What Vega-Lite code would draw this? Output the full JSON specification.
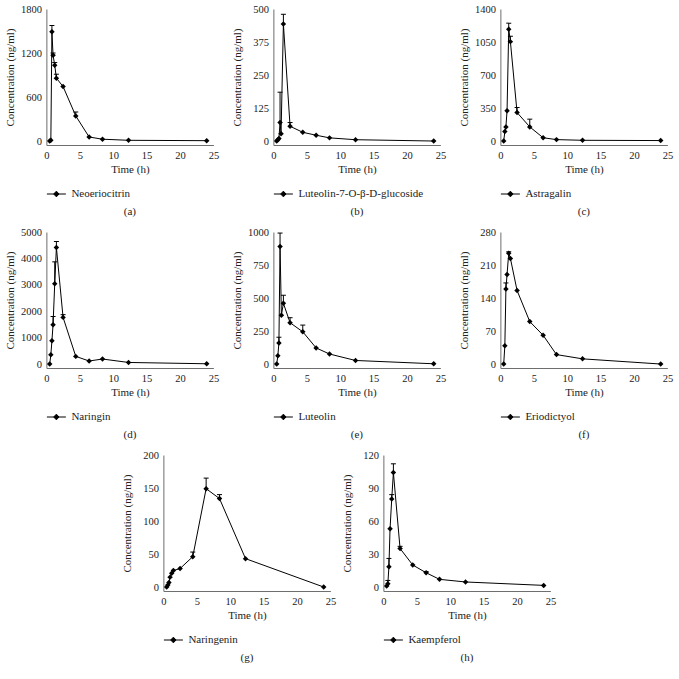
{
  "$schema": "https://vega.github.io/schema/vega-lite/v6.json",
  "padding": {"left": 4, "right": 5, "top": 4, "bottom": 3},
  "background": "white",
  "datasets": {
    "d": [
      {"c":"Neoeriocitrin","t":0.5,"v":0},
      {"c":"Neoeriocitrin","t":0.67,"v":10},
      {"c":"Neoeriocitrin","t":0.83,"v":1489,"hi":1575},
      {"c":"Neoeriocitrin","t":1,"v":1171,"hi":1200},
      {"c":"Neoeriocitrin","t":1.25,"v":1034,"hi":1070},
      {"c":"Neoeriocitrin","t":1.5,"v":857,"hi":911},
      {"c":"Neoeriocitrin","t":2.5,"v":743},
      {"c":"Neoeriocitrin","t":4.4,"v":342,"hi":396},
      {"c":"Neoeriocitrin","t":6.4,"v":55},
      {"c":"Neoeriocitrin","t":8.4,"v":25},
      {"c":"Neoeriocitrin","t":12.3,"v":10},
      {"c":"Neoeriocitrin","t":24,"v":5},

      {"c":"Luteolin-7-O-β-D-glucoside","t":0.5,"v":0},
      {"c":"Luteolin-7-O-β-D-glucoside","t":0.67,"v":5},
      {"c":"Luteolin-7-O-β-D-glucoside","t":0.83,"v":10},
      {"c":"Luteolin-7-O-β-D-glucoside","t":1,"v":70,"hi":185},
      {"c":"Luteolin-7-O-β-D-glucoside","t":1.15,"v":28},
      {"c":"Luteolin-7-O-β-D-glucoside","t":1.5,"v":443,"hi":480},
      {"c":"Luteolin-7-O-β-D-glucoside","t":2.5,"v":56,"hi":70},
      {"c":"Luteolin-7-O-β-D-glucoside","t":4.4,"v":33},
      {"c":"Luteolin-7-O-β-D-glucoside","t":6.4,"v":22},
      {"c":"Luteolin-7-O-β-D-glucoside","t":8.4,"v":12},
      {"c":"Luteolin-7-O-β-D-glucoside","t":12.3,"v":5},
      {"c":"Luteolin-7-O-β-D-glucoside","t":24,"v":0},

      {"c":"Astragalin","t":0.5,"v":0},
      {"c":"Astragalin","t":0.67,"v":100},
      {"c":"Astragalin","t":0.83,"v":150},
      {"c":"Astragalin","t":1,"v":320},
      {"c":"Astragalin","t":1.25,"v":1186,"hi":1250},
      {"c":"Astragalin","t":1.5,"v":1054,"hi":1110},
      {"c":"Astragalin","t":2.5,"v":302,"hi":355},
      {"c":"Astragalin","t":4.4,"v":150,"hi":232},
      {"c":"Astragalin","t":6.4,"v":35},
      {"c":"Astragalin","t":8.4,"v":15},
      {"c":"Astragalin","t":12.3,"v":8},
      {"c":"Astragalin","t":24,"v":5},

      {"c":"Naringin","t":0.5,"v":0},
      {"c":"Naringin","t":0.67,"v":355},
      {"c":"Naringin","t":0.83,"v":878},
      {"c":"Naringin","t":1,"v":1489,"hi":1800},
      {"c":"Naringin","t":1.25,"v":3038,"hi":3870},
      {"c":"Naringin","t":1.5,"v":4412,"hi":4640},
      {"c":"Naringin","t":2.5,"v":1767,"hi":1870},
      {"c":"Naringin","t":4.4,"v":290},
      {"c":"Naringin","t":6.4,"v":115},
      {"c":"Naringin","t":8.4,"v":190},
      {"c":"Naringin","t":12.3,"v":60},
      {"c":"Naringin","t":24,"v":10},

      {"c":"Luteolin","t":0.5,"v":0},
      {"c":"Luteolin","t":0.67,"v":63},
      {"c":"Luteolin","t":0.83,"v":160,"hi":203},
      {"c":"Luteolin","t":1,"v":890,"hi":992},
      {"c":"Luteolin","t":1.2,"v":369},
      {"c":"Luteolin","t":1.5,"v":460,"hi":521},
      {"c":"Luteolin","t":2.5,"v":313,"hi":351},
      {"c":"Luteolin","t":4.4,"v":244,"hi":295},
      {"c":"Luteolin","t":6.4,"v":122},
      {"c":"Luteolin","t":8.4,"v":76},
      {"c":"Luteolin","t":12.3,"v":27},
      {"c":"Luteolin","t":24,"v":2},

      {"c":"Eriodictyol","t":0.5,"v":0},
      {"c":"Eriodictyol","t":0.67,"v":39},
      {"c":"Eriodictyol","t":0.83,"v":159,"hi":172},
      {"c":"Eriodictyol","t":1,"v":190},
      {"c":"Eriodictyol","t":1.25,"v":235,"hi":238},
      {"c":"Eriodictyol","t":1.5,"v":224},
      {"c":"Eriodictyol","t":2.5,"v":156},
      {"c":"Eriodictyol","t":4.4,"v":90},
      {"c":"Eriodictyol","t":6.4,"v":61},
      {"c":"Eriodictyol","t":8.4,"v":20},
      {"c":"Eriodictyol","t":12.3,"v":11},
      {"c":"Eriodictyol","t":24,"v":0},

      {"c":"Naringenin","t":0.5,"v":0},
      {"c":"Naringenin","t":0.67,"v":3},
      {"c":"Naringenin","t":0.83,"v":7},
      {"c":"Naringenin","t":1,"v":15},
      {"c":"Naringenin","t":1.25,"v":21},
      {"c":"Naringenin","t":1.5,"v":25},
      {"c":"Naringenin","t":2.5,"v":28},
      {"c":"Naringenin","t":4.4,"v":46,"hi":53},
      {"c":"Naringenin","t":6.4,"v":149,"hi":165},
      {"c":"Naringenin","t":8.4,"v":134,"hi":140},
      {"c":"Naringenin","t":12.3,"v":43},
      {"c":"Naringenin","t":24,"v":0},

      {"c":"Kaempferol","t":0.5,"v":1},
      {"c":"Kaempferol","t":0.67,"v":3,"hi":6},
      {"c":"Kaempferol","t":0.83,"v":18.5,"hi":26},
      {"c":"Kaempferol","t":1,"v":53},
      {"c":"Kaempferol","t":1.25,"v":80,"hi":84},
      {"c":"Kaempferol","t":1.5,"v":104,"hi":112},
      {"c":"Kaempferol","t":2.5,"v":35,"hi":37},
      {"c":"Kaempferol","t":4.4,"v":20},
      {"c":"Kaempferol","t":6.4,"v":13,"hi":14},
      {"c":"Kaempferol","t":8.4,"v":7},
      {"c":"Kaempferol","t":12.3,"v":4.6},
      {"c":"Kaempferol","t":24,"v":1.5}
    ]
  },
  "spacing": 10,
  "center": true,
  "resolve": {"scale": {"color": "independent"}, "legend": {"color": "independent"}},
  "vconcat": [
    {
      "spacing": 11,
      "resolve": {"scale": {"color": "independent"}, "legend": {"color": "independent"}},
      "hconcat": [
        {
          "width": 167, "height": 136,
          "data": {"name": "d"},
          "transform": [{"filter": "datum.c == 'Neoeriocitrin'"}],
          "title": {"text": "(a)", "orient": "bottom", "anchor": "middle"},
          "encoding": {
            "x": {"field": "t", "type": "quantitative", "scale": {"domain": [0, 25], "nice": false}, "axis": {"values": [0, 5, 10, 15, 20, 25], "title": "Time (h)", "titleFontWeight": "normal"}},
            "y": {"field": "v", "type": "quantitative", "scale": {"domain": [-54, 1800], "nice": false}, "axis": {"values": [0, 600, 1200, 1800], "labelOverlap": false, "title": "Concentration (ng/ml)"}}
          },
          "layer": [
            {"transform": [{"filter": "isValid(datum.hi)"}], "mark": {"type": "rule", "color": "black", "strokeWidth": 1}, "encoding": {"y2": {"field": "hi"}}},
            {"transform": [{"filter": "isValid(datum.hi)"}], "mark": {"type": "tick", "orient": "horizontal", "size": 5, "thickness": 1, "color": "black", "opacity": 1}, "encoding": {"y": {"field": "hi", "type": "quantitative", "axis": {"values": [0, 600, 1200, 1800], "labelOverlap": false, "title": "Concentration (ng/ml)"}}}},
            {"mark": {"type": "line", "color": "black", "strokeWidth": 1}},
            {"mark": {"type": "point", "shape": "diamond", "filled": true, "size": 30, "opacity": 1}, "encoding": {"color": {"field": "c", "type": "nominal", "scale": {"range": ["black"]}, "legend": {"title": null, "orient": "bottom", "symbolType": "M-1,0L1,0M-0.28,0L0,-0.3L0.28,0L0,0.3Z", "symbolSize": 361, "symbolFillColor": "black", "symbolStrokeColor": "black", "symbolStrokeWidth": 1}}}}
          ]
        },
        {
          "width": 167, "height": 136,
          "data": {"name": "d"},
          "transform": [{"filter": "datum.c == 'Luteolin-7-O-β-D-glucoside'"}],
          "title": {"text": "(b)", "orient": "bottom", "anchor": "middle"},
          "encoding": {
            "x": {"field": "t", "type": "quantitative", "scale": {"domain": [0, 25], "nice": false}, "axis": {"values": [0, 5, 10, 15, 20, 25], "title": "Time (h)", "titleFontWeight": "normal"}},
            "y": {"field": "v", "type": "quantitative", "scale": {"domain": [-15, 500], "nice": false}, "axis": {"values": [0, 125, 250, 375, 500], "labelOverlap": false, "title": "Concentration (ng/ml)"}}
          },
          "layer": [
            {"transform": [{"filter": "isValid(datum.hi)"}], "mark": {"type": "rule", "color": "black", "strokeWidth": 1}, "encoding": {"y2": {"field": "hi"}}},
            {"transform": [{"filter": "isValid(datum.hi)"}], "mark": {"type": "tick", "orient": "horizontal", "size": 5, "thickness": 1, "color": "black", "opacity": 1}, "encoding": {"y": {"field": "hi", "type": "quantitative", "axis": {"values": [0, 125, 250, 375, 500], "labelOverlap": false, "title": "Concentration (ng/ml)"}}}},
            {"mark": {"type": "line", "color": "black", "strokeWidth": 1}},
            {"mark": {"type": "point", "shape": "diamond", "filled": true, "size": 30, "opacity": 1}, "encoding": {"color": {"field": "c", "type": "nominal", "scale": {"range": ["black"]}, "legend": {"title": null, "orient": "bottom", "symbolType": "M-1,0L1,0M-0.28,0L0,-0.3L0.28,0L0,0.3Z", "symbolSize": 361, "symbolFillColor": "black", "symbolStrokeColor": "black", "symbolStrokeWidth": 1}}}}
          ]
        },
        {
          "width": 167, "height": 136,
          "data": {"name": "d"},
          "transform": [{"filter": "datum.c == 'Astragalin'"}],
          "title": {"text": "(c)", "orient": "bottom", "anchor": "middle"},
          "encoding": {
            "x": {"field": "t", "type": "quantitative", "scale": {"domain": [0, 25], "nice": false}, "axis": {"values": [0, 5, 10, 15, 20, 25], "title": "Time (h)", "titleFontWeight": "normal"}},
            "y": {"field": "v", "type": "quantitative", "scale": {"domain": [-42, 1400], "nice": false}, "axis": {"values": [0, 350, 700, 1050, 1400], "labelOverlap": false, "title": "Concentration (ng/ml)"}}
          },
          "layer": [
            {"transform": [{"filter": "isValid(datum.hi)"}], "mark": {"type": "rule", "color": "black", "strokeWidth": 1}, "encoding": {"y2": {"field": "hi"}}},
            {"transform": [{"filter": "isValid(datum.hi)"}], "mark": {"type": "tick", "orient": "horizontal", "size": 5, "thickness": 1, "color": "black", "opacity": 1}, "encoding": {"y": {"field": "hi", "type": "quantitative", "axis": {"values": [0, 350, 700, 1050, 1400], "labelOverlap": false, "title": "Concentration (ng/ml)"}}}},
            {"mark": {"type": "line", "color": "black", "strokeWidth": 1}},
            {"mark": {"type": "point", "shape": "diamond", "filled": true, "size": 30, "opacity": 1}, "encoding": {"color": {"field": "c", "type": "nominal", "scale": {"range": ["black"]}, "legend": {"title": null, "orient": "bottom", "symbolType": "M-1,0L1,0M-0.28,0L0,-0.3L0.28,0L0,0.3Z", "symbolSize": 361, "symbolFillColor": "black", "symbolStrokeColor": "black", "symbolStrokeWidth": 1}}}}
          ]
        }
      ]
    },
    {
      "spacing": 11,
      "resolve": {"scale": {"color": "independent"}, "legend": {"color": "independent"}},
      "hconcat": [
        {
          "width": 167, "height": 136,
          "data": {"name": "d"},
          "transform": [{"filter": "datum.c == 'Naringin'"}],
          "title": {"text": "(d)", "orient": "bottom", "anchor": "middle"},
          "encoding": {
            "x": {"field": "t", "type": "quantitative", "scale": {"domain": [0, 25], "nice": false}, "axis": {"values": [0, 5, 10, 15, 20, 25], "title": "Time (h)", "titleFontWeight": "normal"}},
            "y": {"field": "v", "type": "quantitative", "scale": {"domain": [-150, 5000], "nice": false}, "axis": {"values": [0, 1000, 2000, 3000, 4000, 5000], "labelOverlap": false, "title": "Concentration (ng/ml)"}}
          },
          "layer": [
            {"transform": [{"filter": "isValid(datum.hi)"}], "mark": {"type": "rule", "color": "black", "strokeWidth": 1}, "encoding": {"y2": {"field": "hi"}}},
            {"transform": [{"filter": "isValid(datum.hi)"}], "mark": {"type": "tick", "orient": "horizontal", "size": 5, "thickness": 1, "color": "black", "opacity": 1}, "encoding": {"y": {"field": "hi", "type": "quantitative", "axis": {"values": [0, 1000, 2000, 3000, 4000, 5000], "labelOverlap": false, "title": "Concentration (ng/ml)"}}}},
            {"mark": {"type": "line", "color": "black", "strokeWidth": 1}},
            {"mark": {"type": "point", "shape": "diamond", "filled": true, "size": 30, "opacity": 1}, "encoding": {"color": {"field": "c", "type": "nominal", "scale": {"range": ["black"]}, "legend": {"title": null, "orient": "bottom", "symbolType": "M-1,0L1,0M-0.28,0L0,-0.3L0.28,0L0,0.3Z", "symbolSize": 361, "symbolFillColor": "black", "symbolStrokeColor": "black", "symbolStrokeWidth": 1}}}}
          ]
        },
        {
          "width": 167, "height": 136,
          "data": {"name": "d"},
          "transform": [{"filter": "datum.c == 'Luteolin'"}],
          "title": {"text": "(e)", "orient": "bottom", "anchor": "middle"},
          "encoding": {
            "x": {"field": "t", "type": "quantitative", "scale": {"domain": [0, 25], "nice": false}, "axis": {"values": [0, 5, 10, 15, 20, 25], "title": "Time (h)", "titleFontWeight": "normal"}},
            "y": {"field": "v", "type": "quantitative", "scale": {"domain": [-30, 1000], "nice": false}, "axis": {"values": [0, 250, 500, 750, 1000], "labelOverlap": false, "title": "Concentration (ng/ml)"}}
          },
          "layer": [
            {"transform": [{"filter": "isValid(datum.hi)"}], "mark": {"type": "rule", "color": "black", "strokeWidth": 1}, "encoding": {"y2": {"field": "hi"}}},
            {"transform": [{"filter": "isValid(datum.hi)"}], "mark": {"type": "tick", "orient": "horizontal", "size": 5, "thickness": 1, "color": "black", "opacity": 1}, "encoding": {"y": {"field": "hi", "type": "quantitative", "axis": {"values": [0, 250, 500, 750, 1000], "labelOverlap": false, "title": "Concentration (ng/ml)"}}}},
            {"mark": {"type": "line", "color": "black", "strokeWidth": 1}},
            {"mark": {"type": "point", "shape": "diamond", "filled": true, "size": 30, "opacity": 1}, "encoding": {"color": {"field": "c", "type": "nominal", "scale": {"range": ["black"]}, "legend": {"title": null, "orient": "bottom", "symbolType": "M-1,0L1,0M-0.28,0L0,-0.3L0.28,0L0,0.3Z", "symbolSize": 361, "symbolFillColor": "black", "symbolStrokeColor": "black", "symbolStrokeWidth": 1}}}}
          ]
        },
        {
          "width": 167, "height": 136,
          "data": {"name": "d"},
          "transform": [{"filter": "datum.c == 'Eriodictyol'"}],
          "title": {"text": "(f)", "orient": "bottom", "anchor": "middle"},
          "encoding": {
            "x": {"field": "t", "type": "quantitative", "scale": {"domain": [0, 25], "nice": false}, "axis": {"values": [0, 5, 10, 15, 20, 25], "title": "Time (h)", "titleFontWeight": "normal"}},
            "y": {"field": "v", "type": "quantitative", "scale": {"domain": [-8.4, 280], "nice": false}, "axis": {"values": [0, 70, 140, 210, 280], "labelOverlap": false, "title": "Concentration (ng/ml)"}}
          },
          "layer": [
            {"transform": [{"filter": "isValid(datum.hi)"}], "mark": {"type": "rule", "color": "black", "strokeWidth": 1}, "encoding": {"y2": {"field": "hi"}}},
            {"transform": [{"filter": "isValid(datum.hi)"}], "mark": {"type": "tick", "orient": "horizontal", "size": 5, "thickness": 1, "color": "black", "opacity": 1}, "encoding": {"y": {"field": "hi", "type": "quantitative", "axis": {"values": [0, 70, 140, 210, 280], "labelOverlap": false, "title": "Concentration (ng/ml)"}}}},
            {"mark": {"type": "line", "color": "black", "strokeWidth": 1}},
            {"mark": {"type": "point", "shape": "diamond", "filled": true, "size": 30, "opacity": 1}, "encoding": {"color": {"field": "c", "type": "nominal", "scale": {"range": ["black"]}, "legend": {"title": null, "orient": "bottom", "symbolType": "M-1,0L1,0M-0.28,0L0,-0.3L0.28,0L0,0.3Z", "symbolSize": 361, "symbolFillColor": "black", "symbolStrokeColor": "black", "symbolStrokeWidth": 1}}}}
          ]
        }
      ]
    },
    {
      "spacing": 4,
      "resolve": {"scale": {"color": "independent"}, "legend": {"color": "independent"}},
      "hconcat": [
        {
          "width": 167, "height": 136,
          "data": {"name": "d"},
          "transform": [{"filter": "datum.c == 'Naringenin'"}],
          "title": {"text": "(g)", "orient": "bottom", "anchor": "middle"},
          "encoding": {
            "x": {"field": "t", "type": "quantitative", "scale": {"domain": [0, 25], "nice": false}, "axis": {"values": [0, 5, 10, 15, 20, 25], "title": "Time (h)", "titleFontWeight": "normal"}},
            "y": {"field": "v", "type": "quantitative", "scale": {"domain": [-6, 200], "nice": false}, "axis": {"values": [0, 50, 100, 150, 200], "labelOverlap": false, "title": "Concentration (ng/ml)"}}
          },
          "layer": [
            {"transform": [{"filter": "isValid(datum.hi)"}], "mark": {"type": "rule", "color": "black", "strokeWidth": 1}, "encoding": {"y2": {"field": "hi"}}},
            {"transform": [{"filter": "isValid(datum.hi)"}], "mark": {"type": "tick", "orient": "horizontal", "size": 5, "thickness": 1, "color": "black", "opacity": 1}, "encoding": {"y": {"field": "hi", "type": "quantitative", "axis": {"values": [0, 50, 100, 150, 200], "labelOverlap": false, "title": "Concentration (ng/ml)"}}}},
            {"mark": {"type": "line", "color": "black", "strokeWidth": 1}},
            {"mark": {"type": "point", "shape": "diamond", "filled": true, "size": 30, "opacity": 1}, "encoding": {"color": {"field": "c", "type": "nominal", "scale": {"range": ["black"]}, "legend": {"title": null, "orient": "bottom", "symbolType": "M-1,0L1,0M-0.28,0L0,-0.3L0.28,0L0,0.3Z", "symbolSize": 361, "symbolFillColor": "black", "symbolStrokeColor": "black", "symbolStrokeWidth": 1}}}}
          ]
        },
        {
          "width": 167, "height": 136,
          "data": {"name": "d"},
          "transform": [{"filter": "datum.c == 'Kaempferol'"}],
          "title": {"text": "(h)", "orient": "bottom", "anchor": "middle"},
          "encoding": {
            "x": {"field": "t", "type": "quantitative", "scale": {"domain": [0, 25], "nice": false}, "axis": {"values": [0, 5, 10, 15, 20, 25], "title": "Time (h)", "titleFontWeight": "normal"}},
            "y": {"field": "v", "type": "quantitative", "scale": {"domain": [-3.6, 120], "nice": false}, "axis": {"values": [0, 30, 60, 90, 120], "labelOverlap": false, "title": "Concentration (ng/ml)"}}
          },
          "layer": [
            {"transform": [{"filter": "isValid(datum.hi)"}], "mark": {"type": "rule", "color": "black", "strokeWidth": 1}, "encoding": {"y2": {"field": "hi"}}},
            {"transform": [{"filter": "isValid(datum.hi)"}], "mark": {"type": "tick", "orient": "horizontal", "size": 5, "thickness": 1, "color": "black", "opacity": 1}, "encoding": {"y": {"field": "hi", "type": "quantitative", "axis": {"values": [0, 30, 60, 90, 120], "labelOverlap": false, "title": "Concentration (ng/ml)"}}}},
            {"mark": {"type": "line", "color": "black", "strokeWidth": 1}},
            {"mark": {"type": "point", "shape": "diamond", "filled": true, "size": 30, "opacity": 1}, "encoding": {"color": {"field": "c", "type": "nominal", "scale": {"range": ["black"]}, "legend": {"title": null, "orient": "bottom", "symbolType": "M-1,0L1,0M-0.28,0L0,-0.3L0.28,0L0,0.3Z", "symbolSize": 361, "symbolFillColor": "black", "symbolStrokeColor": "black", "symbolStrokeWidth": 1}}}}
          ]
        }
      ]
    }
  ],
  "config": {
    "font": "Liberation Serif",
    "view": {"stroke": null},
    "style": {"guide-title": {"fontWeight": "normal", "font": "Liberation Serif"}, "guide-label": {"font": "Liberation Serif"}, "group-title": {"fontWeight": "normal", "font": "Liberation Serif"}},
    "axis": {"grid": false, "ticks": false, "format": "d", "labelOverlap": false, "domainColor": "#6e6e6e", "domainWidth": 1, "labelFont": "Liberation Serif", "labelFontSize": 10.5, "labelColor": "#222222", "titleFont": "Liberation Serif", "titleFontSize": 11, "titleFontWeight": "normal", "titleColor": "#222222", "labelPadding": 5},
    "axisX": {"labelFlush": false, "titlePadding": 3, "titleFontWeight": "normal"},
    "axisY": {"titleX": -31, "titleFontWeight": "normal"},
    "legend": {"labelFont": "Liberation Serif", "labelFontSize": 11, "labelColor": "#222222", "offset": 9, "labelOffset": 5, "padding": 0},
    "title": {"font": "Liberation Serif", "fontSize": 11, "fontWeight": "normal", "color": "#222222", "offset": 7}
  }
}
